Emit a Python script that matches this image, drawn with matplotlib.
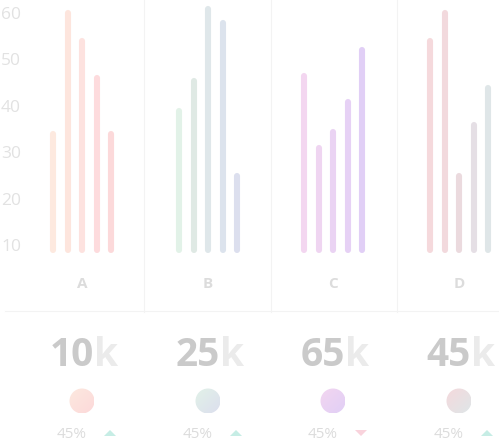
import matplotlib
matplotlib.use("Agg")
import matplotlib.pyplot as plt
import numpy as np
from matplotlib.patches import Circle, Polygon

categories = ["A", "B", "C", "D"]
values = {
    "A": [35, 61, 55, 47, 35],
    "B": [40, 46.5, 62, 59, 26],
    "C": [47.5, 32, 35.5, 42, 53],
    "D": [55, 61, 26, 37, 45],
}
colors = {
    "A": ["#fde9df", "#fde5dd", "#fde2df", "#fddbdd", "#fcd9da"],
    "B": ["#e2f2e8", "#dfe9e4", "#dfe7ea", "#dce3ed", "#dcdfee"],
    "C": ["#f3d6f0", "#efd5f1", "#ead3f3", "#e6d1f5", "#e1cff6"],
    "D": ["#f5d9dc", "#f2d9dd", "#ebdade", "#e5dfe5", "#dfe6e8"],
}
grad = {"A": ("#fde9df", "#fcd9da"), "B": ("#e2f2e8", "#dcdfee"),
        "C": ("#f3d6f0", "#e1cff6"), "D": ("#f5d9dc", "#dfe6e8")}
totals = ["10", "25", "65", "45"]
changes = ["45%", "45%", "45%", "45%"]
direction = ["up", "up", "down", "up"]
yticks = [10, 20, 30, 40, 50, 60]

W, H = 499, 443
fig = plt.figure(figsize=(W / 100, H / 100), dpi=100)
fig.patch.set_facecolor("white")

# overlay axes in pixel coordinates
ov = fig.add_axes([0, 0, 1, 1])
ov.set_xlim(0, W); ov.set_ylim(H, 0); ov.axis("off")

# bar axes
bar_px = 253
bx = fig.add_axes([0, (H - bar_px) / H, 1, bar_px / H])
y_bottom, y_top = 8.7, 10 + 247 / 4.64
bx.set_xlim(0, W); bx.set_ylim(y_bottom, y_top); bx.axis("off")

centers = [82, 208, 333, 459]
offs = [-28.5, -14.2, 0, 14.8, 29.2]
cap = 0.65
for cat, c in zip(categories, centers):
    for o, v, col in zip(offs, values[cat], colors[cat]):
        bx.vlines(c + o, 9.4, v - cap, colors=col, linewidth=4.4, capstyle="round")
for t in yticks:
    bx.text(1, t, str(t), ha="left", va="center", fontsize=12.5, color="#e2e2e2",
            family="Open Sans")

# separators
for x in [144.5, 271, 397.5]:
    ov.plot([x, x], [0, 312], color="#f3f3f3", lw=0.8)
ov.plot([5, W], [310.5, 310.5], color="#f3f3f3", lw=0.8)

for i, (cat, c) in enumerate(zip(categories, centers)):
    ov.text(c, 284, cat, ha="center", va="center", fontsize=11, color="#dcdcdc",
            weight="bold", family="Open Sans")
    t1 = ov.text(c + 12, 355, totals[i], ha="right", va="center", fontsize=28,
                 weight="bold", color="#cacaca", family="Open Sans")
    ov.text(c + 12, 355, "k", ha="left", va="center", fontsize=28,
            weight="bold", color="#ebebeb", family="Open Sans")
    # gradient circle
    c0 = np.array(matplotlib.colors.to_rgb(grad[cat][0]))
    c1 = np.array(matplotlib.colors.to_rgb(grad[cat][1]))
    n = 40
    g = np.linspace(0, 1, n)
    gg = (g[None, :] + g[:, None]) / 2
    img = c0[None, None, :] * (1 - gg[..., None]) + c1[None, None, :] * gg[..., None]
    r = 12.5
    im = ov.imshow(img, extent=(c - r, c + r, 401 + r, 401 - r), zorder=3)
    circ = Circle((c, 401), r, transform=ov.transData, facecolor="none", edgecolor="none")
    ov.add_patch(circ)
    im.set_clip_path(circ)
    ov.text(c + 5, 435, changes[i], ha="right", va="center", fontsize=11,
            color="#dcdcdc", family="Open Sans")
    tx = c + 28
    if direction[i] == "up":
        tri = Polygon([[tx - 6, 436], [tx + 6, 436], [tx, 430]], closed=True,
                      facecolor="#c6ede5", edgecolor="none")
    else:
        tri = Polygon([[tx - 6, 430], [tx + 6, 430], [tx, 436]], closed=True,
                      facecolor="#f9d3dc", edgecolor="none")
    ov.add_patch(tri)

ov.set_xlim(0, W); ov.set_ylim(H, 0)
fig.savefig("out.png", dpi=100, facecolor="white")
